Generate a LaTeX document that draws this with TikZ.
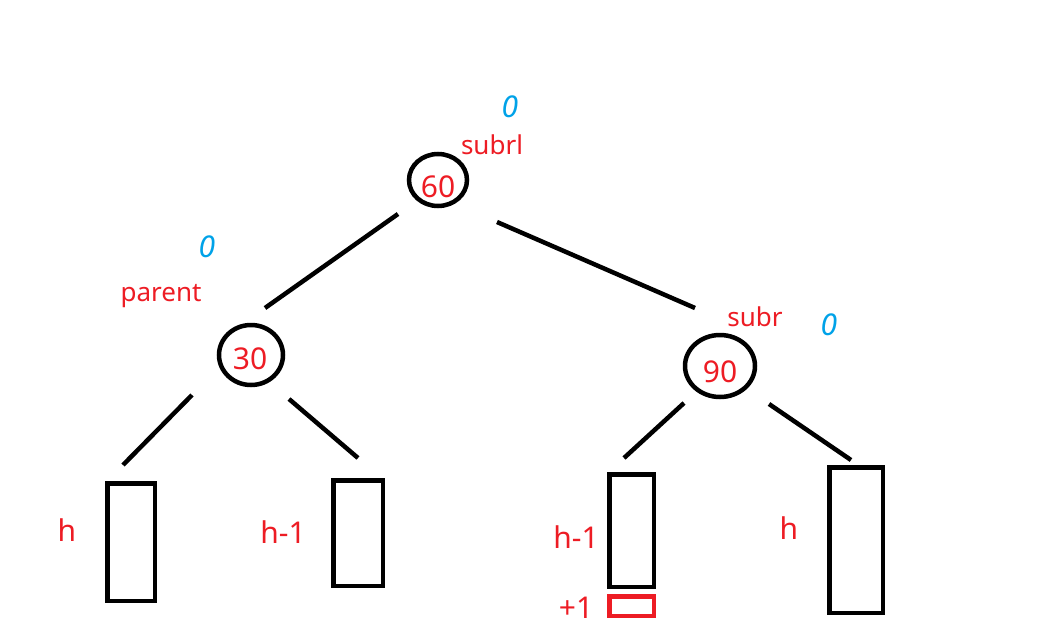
\documentclass[tikz,border=0pt]{standalone}
\usepackage{fontspec}
\setmainfont{Noto Sans}
\definecolor{inkred}{RGB}{237,28,36}
\definecolor{inkblue}{RGB}{0,162,232}
\tikzset{
  x=1pt,y=-1pt,
  keynode/.style={draw=black,line width=4.5pt,ellipse,inner sep=0pt},
  edge/.style={draw=black,line width=4.5pt},
  subtree/.style={draw=black,line width=4.5pt,inner sep=0pt},
  extra/.style={draw=inkred,line width=4.5pt,inner sep=0pt},
  hand/.style={text=inkred,font=\fontsize{30}{30}\selectfont,inner sep=0pt},
  tag/.style={text=inkred,font=\fontsize{26}{26}\selectfont,inner sep=0pt},
  bf/.style={text=inkblue,font=\fontsize{30}{30}\selectfont\itshape,inner sep=0pt}
}
\usetikzlibrary{shapes.geometric}
\begin{document}
\begin{tikzpicture}
\useasboundingbox (0,0) rectangle (1060,642);
% key nodes
\node[keynode,minimum width=58pt,minimum height=52pt] (n60) at (438,180) {};
\node[keynode,minimum width=64pt,minimum height=60pt] (n30) at (251,355) {};
\node[keynode,minimum width=70pt,minimum height=62pt] (n90) at (720,366) {};
\node[hand] (t60) at (438,187) {60};
\node[hand] (t30) at (250,359) {30};
\node[hand] (t90) at (720,372) {90};
% subtrees
\node[subtree,minimum width=47.5pt,minimum height=117.5pt] (s1) at (131,542) {};
\node[subtree,minimum width=49.5pt,minimum height=105.5pt] (s2) at (358,533) {};
\node[subtree,minimum width=44.5pt,minimum height=112.5pt] (s3) at (631.5,530.5) {};
\node[extra,minimum width=44.5pt,minimum height=19.5pt] (s3x) at (631.5,606) {};
\node[subtree,minimum width=53.5pt,minimum height=145.5pt] (s4) at (856,540) {};
% connectors
\coordinate (a1) at (398,214); \coordinate (a2) at (265,308);
\coordinate (b1) at (497,222); \coordinate (b2) at (695,308);
\coordinate (c1) at (192,395); \coordinate (c2) at (123,465);
\coordinate (d1) at (289,399); \coordinate (d2) at (358,458);
\coordinate (e1) at (684,403); \coordinate (e2) at (624,458);
\coordinate (f1) at (769,404); \coordinate (f2) at (851,460);
\draw[edge] (a1) -- (a2);
\draw[edge] (b1) -- (b2);
\draw[edge] (c1) -- (c2);
\draw[edge] (d1) -- (d2);
\draw[edge] (e1) -- (e2);
\draw[edge] (f1) -- (f2);
% labels
\node[tag] (lsubrl) at (492,145) {subrl};
\node[tag] (lparent) at (161,296) {parent};
\node[tag] (lsubr) at (755,317) {subr};
\node[bf] (b60) at (510,107) {0};
\node[bf] (b30) at (207,247) {0};
\node[bf] (b90) at (829,325) {0};
\node[hand] (h1) at (67,530) {h};
\node[hand] (h2) at (283,532) {h-1};
\node[hand] (h3) at (576,537) {h-1};
\node[hand] (p1) at (576,608) {+1};
\node[hand] (h4) at (789,528) {h};
\end{tikzpicture}
\end{document}
